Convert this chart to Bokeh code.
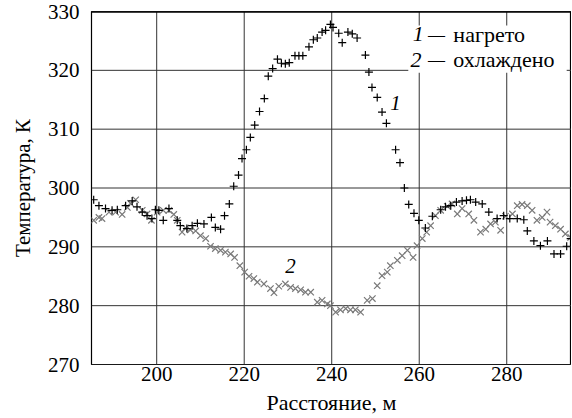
from bokeh.plotting import figure
from bokeh.models import FixedTicker, Label, BoxAnnotation, Span, Range1d
from bokeh.embed import file_html
from bokeh.resources import INLINE

# Series 1: heated (+)
x_heated = [185.6, 186.8, 188.3, 189.8, 191.0, 192.9, 194.4, 195.5, 196.7, 197.8, 198.9, 199.7,
            200.5, 201.5, 202.8, 204.7, 205.4, 206.9, 208.1, 209.3, 210.8, 212.5, 213.4, 214.6,
            215.5, 216.6, 217.6, 218.7, 219.5, 220.5, 221.4, 222.4, 223.5, 224.6, 225.5, 226.5,
            227.6, 228.5, 229.4, 230.3, 231.6, 232.5, 233.4, 234.8, 235.8, 236.7, 237.8, 238.6,
            239.7, 240.3, 241.6, 242.4, 243.7, 244.7, 245.8, 247.7, 248.5, 249.2, 250.4, 251.5,
            252.5, 254.6, 255.6, 256.6, 257.6, 258.8, 259.9, 261.4, 263.0, 264.9, 266.0, 267.2,
            268.5, 269.8, 270.8, 271.7, 272.9, 274.4, 275.9, 277.8, 279.3, 280.7, 282.4, 283.9,
            284.7, 286.2, 287.7, 289.3, 290.8, 292.3, 293.7, 294.6]
y_heated = [298.0, 297.0, 296.5, 296.2, 296.3, 297.0, 297.8, 296.8, 295.9, 295.3, 294.8, 296.3,
            296.2, 294.5, 296.5, 294.5, 293.6, 293.1, 293.6, 294.0, 293.9, 295.0, 293.3, 293.0,
            295.3, 297.3, 300.3, 302.2, 305.0, 306.5, 308.6, 310.7, 313.0, 315.2, 319.0, 320.3,
            321.9, 321.2, 321.1, 321.3, 322.5, 322.5, 322.5, 324.0, 325.2, 325.5, 326.5, 326.8,
            327.8, 327.3, 326.3, 324.7, 326.5, 326.2, 325.5, 322.6, 319.7, 317.1, 315.4, 312.9,
            311.0, 306.5, 304.3, 300.0, 297.2, 295.7, 294.5, 293.2, 295.2, 296.3, 296.8, 297.0,
            297.6, 297.8, 297.9, 298.0, 297.6, 297.3, 295.9, 294.8, 295.3, 294.8, 294.8, 294.6,
            292.7, 291.0, 290.2, 291.0, 288.8, 288.8, 290.1, 291.4]

# Series 2: cooled (x)
x_cooled = [185.6, 186.8, 187.5, 189.1, 190.6, 192.1, 193.3, 194.0, 195.2, 196.7, 197.8, 198.8,
            200.1, 201.5, 202.8, 203.9, 204.7, 205.8, 206.6, 207.7, 208.9, 210.0, 211.2, 212.3,
            213.4, 214.6, 215.7, 216.9, 217.8, 219.0, 220.1, 221.1, 222.2, 223.0, 224.5, 226.0,
            226.8, 227.9, 229.4, 230.6, 231.7, 232.9, 234.0, 235.2, 236.7, 237.8, 239.0, 239.7,
            240.9, 242.0, 243.2, 244.3, 245.4, 246.6, 248.1, 249.3, 250.4, 251.5, 252.7, 253.4,
            255.0, 256.1, 257.3, 258.6, 259.5, 260.7, 261.7, 262.6, 263.7, 264.9, 266.4, 267.5,
            268.7, 269.8, 271.3, 272.5, 274.0, 275.2, 276.3, 277.4, 278.6, 279.7, 281.3, 282.4,
            283.5, 284.7, 285.8, 286.9, 288.1, 289.2, 289.9, 291.1, 292.3, 293.4, 294.6]
y_cooled = [294.5, 295.0, 294.8, 295.9, 295.9, 295.5, 296.7, 297.4, 298.0, 296.2, 295.6, 294.5,
            295.9, 296.2, 296.2, 295.5, 294.5, 292.5, 293.2, 292.9, 292.7, 291.9, 291.4, 290.1,
            289.7, 289.4, 289.1, 288.8, 288.2, 286.8, 285.7, 285.0, 284.6, 284.0, 283.7, 282.9,
            282.2, 283.3, 283.7, 283.1, 282.9, 282.7, 282.3, 282.3, 280.6, 280.9, 280.3, 280.0,
            278.9, 279.3, 279.5, 279.3, 279.3, 278.9, 280.9, 281.2, 283.4, 285.1, 285.7, 286.8,
            287.7, 288.5, 289.4, 288.2, 290.2, 291.4, 292.5, 293.6, 295.3, 296.2, 296.9, 297.3,
            295.6, 296.5, 295.6, 294.5, 292.5, 293.0, 293.9, 294.2, 292.8, 295.2, 295.6, 297.0,
            297.2, 297.0, 296.2, 294.5, 295.0, 295.9, 294.2, 293.6, 293.0, 292.2, 291.6]

x_ticks = [200, 220, 240, 260, 280]
y_ticks = [270, 280, 290, 300, 310, 320, 330]
legend_labels = ["нагрето", "охлаждено"]
x_title = "Расстояние, м"
y_title = "Температура, К"

FONT = "'Liberation Serif', 'Times New Roman', serif"

p = figure(width=571, height=418, output_backend="svg", toolbar_location=None,
           x_range=Range1d(185.1, 294.8), y_range=Range1d(270, 330),
           min_border_left=91, min_border_right=0, min_border_top=11, min_border_bottom=54)
p.background_fill_color = "white"
p.border_fill_color = "white"
p.outline_line_color = "black"
p.outline_line_width = 1.2
p.xgrid.visible = False
p.ygrid.visible = False

for ax in (p.xaxis[0], p.yaxis[0]):
    ax.major_tick_out = 0
    ax.major_tick_in = 0
    ax.minor_tick_out = 0
    ax.minor_tick_in = 0
    ax.axis_line_color = None
    ax.major_label_text_font = FONT
    ax.major_label_text_font_size = "21px"
    ax.major_label_text_color = "black"
    ax.axis_label_text_font = FONT
    ax.axis_label_text_font_size = "21px"
    ax.axis_label_text_font_style = "normal"
    ax.axis_label_text_color = "black"

p.xaxis.ticker = FixedTicker(ticks=x_ticks)
p.yaxis.ticker = FixedTicker(ticks=y_ticks)
p.xaxis.axis_label = x_title
p.yaxis.axis_label = y_title
p.xaxis.axis_label_text_font_size = "22px"
p.xaxis.major_label_standoff = 2
p.xaxis.axis_label_standoff = 6
p.yaxis.major_label_standoff = 12
p.yaxis.axis_label_standoff = 10

# grid lines at the tick values
for t in x_ticks:
    p.add_layout(Span(location=t, dimension="height", line_color="#333333", line_width=1,
                      level="underlay"))
for t in y_ticks:
    p.add_layout(Span(location=t, dimension="width", line_color="#333333", line_width=1,
                      level="underlay"))
p.add_layout(Span(location=y_ticks[-1], dimension="width", line_color="black", line_width=2.5))

p.scatter(x_cooled, y_cooled, marker="x", size=9, line_color="#7a7a7a", line_width=1.2)
p.scatter(x_heated, y_heated, marker="cross", size=8, line_color="black", line_width=1.2)

# legend box
p.add_layout(BoxAnnotation(left=257.5, right=293.7, bottom=319.6, top=327.6,
                           fill_color="white", fill_alpha=1.0, line_color=None))

def lab(x, y, t, italic=False, align="left", size="22px"):
    p.add_layout(Label(x=x, y=y, text=t, text_font=FONT, text_font_size=size,
                       text_font_style="italic" if italic else "normal",
                       text_baseline="middle", text_align=align, text_color="black"))

lab(258.5, 326.1, "1", True)
lab(262.0, 326.1, "—", size="17px")
lab(267.8, 326.1, legend_labels[0])
lab(258.0, 321.8, "2", True)
lab(262.0, 321.8, "—", size="17px")
lab(267.8, 321.8, legend_labels[1])

# curve labels
lab(254.6, 314.4, "1", True, "center", "21px")
lab(230.6, 286.8, "2", True, "center", "21px")

open("out.html", "w").write(file_html(p, INLINE))
